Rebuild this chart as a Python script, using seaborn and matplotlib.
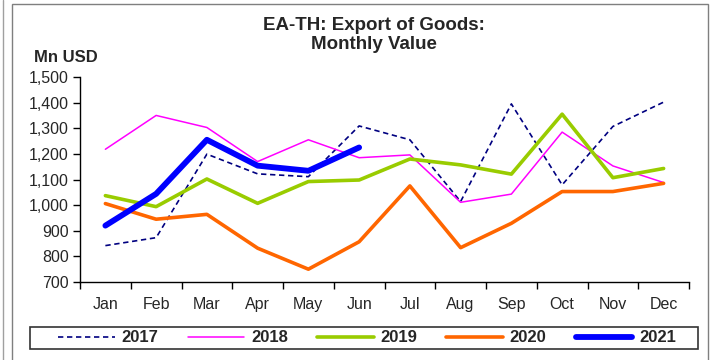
import matplotlib
matplotlib.use("Agg")
import matplotlib.pyplot as plt
from matplotlib.lines import Line2D
from matplotlib.patches import Rectangle
import seaborn as sns
import pandas as pd

months = ["Jan", "Feb", "Mar", "Apr", "May", "Jun",
          "Jul", "Aug", "Sep", "Oct", "Nov", "Dec"]
years = ["2017", "2018", "2019", "2020", "2021"]

v2017 = [842, 873, 1199, 1122, 1111, 1309, 1255, 1014, 1395, 1079, 1307, 1402]
v2018 = [1218, 1350, 1303, 1170, 1255, 1185, 1196, 1011, 1043, 1285, 1153, 1088]
v2019 = [1037, 994, 1102, 1007, 1092, 1098, 1180, 1157, 1121, 1355, 1107, 1143]
v2020 = [1006, 945, 964, 832, 750, 857, 1075, 834, 929, 1053, 1053, 1085]
v2021 = [920, 1044, 1255, 1154, 1134, 1225]

yticks = [700, 800, 900, 1000, 1100, 1200, 1300, 1400, 1500]

series = {"2017": v2017, "2018": v2018, "2019": v2019, "2020": v2020, "2021": v2021}
rows = []
for yr, vals in series.items():
    for i, v in enumerate(vals):
        rows.append({"month": i, "value": v, "year": yr})
df = pd.DataFrame(rows)

palette = {"2017": "#000080", "2018": "#FF00FF", "2019": "#99CC00",
           "2020": "#FF6600", "2021": "#0000FF"}
widths = {"2017": 1.2, "2018": 1.1, "2019": 2.6, "2020": 2.6, "2021": 4.2}
dash_2017 = [3.2, 2.2]

sns.set_theme(style="white")
plt.rcParams["font.family"] = ["Liberation Sans", "DejaVu Sans"]

fig = plt.figure(figsize=(7.12, 3.6), dpi=100)
ax = fig.add_axes([80 / 712, 1 - 282 / 360, 609 / 712, 205 / 360])

for yr in years:
    sub = df[df["year"] == yr]
    sns.lineplot(data=sub, x="month", y="value", color=palette[yr],
                 linewidth=widths[yr], ax=ax, legend=False,
                 solid_capstyle="round", dash_capstyle="butt")

ax.get_lines()[0].set_dashes(dash_2017)

ax.set_xlim(-0.5, 11.5)
ax.set_ylim(700, 1500)
ax.set_yticks(yticks)
ax.set_yticklabels([f"{t:,}" for t in yticks])
ax.set_xticks(range(12))
ax.set_xticklabels(months)
ax.set_xticks([i - 0.5 for i in range(13)], minor=True)
ax.tick_params(axis="x", which="major", length=0, pad=11, labelsize=11.5)
ax.tick_params(axis="x", which="minor", length=5, width=1, color="black",
               direction="out", bottom=True)
ax.tick_params(axis="y", length=5, width=1, color="black", direction="out",
               left=True, labelsize=11.5, pad=3)
ax.set_xlabel("")
ax.set_ylabel("")
for s in ["top", "right"]:
    ax.spines[s].set_visible(False)
for s in ["left", "bottom"]:
    ax.spines[s].set_color("black")
    ax.spines[s].set_linewidth(1)
ax.patch.set_alpha(0)

fig.text(374 / 712, 1 - 35 / 360, "EA-TH: Export of Goods:\nMonthly Value",
         ha="center", va="center", fontsize=13.5, fontweight="bold",
         linespacing=1.2)
fig.text(34 / 712, 1 - 57 / 360, "Mn USD", ha="left", va="center",
         fontsize=12, fontweight="bold")

# legend box
fig.add_artist(Rectangle((30 / 712, 1 - 349 / 360), 668 / 712, 22 / 360,
                         transform=fig.transFigure, facecolor="white",
                         edgecolor="#333333", linewidth=1.2))

handles = []
for yr in years:
    h = Line2D([], [], color=palette[yr], linewidth=widths[yr],
               solid_capstyle="round")
    if yr == "2017":
        h.set_dashes(dash_2017)
    handles.append(h)
leg = fig.legend(handles, years, loc="center", ncol=5,
                 bbox_to_anchor=(367 / 712, 1 - 338 / 360),
                 bbox_transform=fig.transFigure, frameon=False,
                 handlelength=3.4, handletextpad=0.4,
                 borderpad=0.0, columnspacing=1.75,
                 prop={"weight": "bold", "size": 12})

# outer chart frame
fig.add_artist(Rectangle((12 / 712, -0.05), 696 / 712, 1 - 4 / 360 + 0.05,
                         transform=fig.transFigure, fill=False,
                         edgecolor="#7f7f7f", linewidth=1))
fig.add_artist(Line2D([3 / 712, 3 / 712], [0, 1], transform=fig.transFigure,
                      color="#a0a0a0", linewidth=1))

fig.savefig("out.png", dpi=100)
